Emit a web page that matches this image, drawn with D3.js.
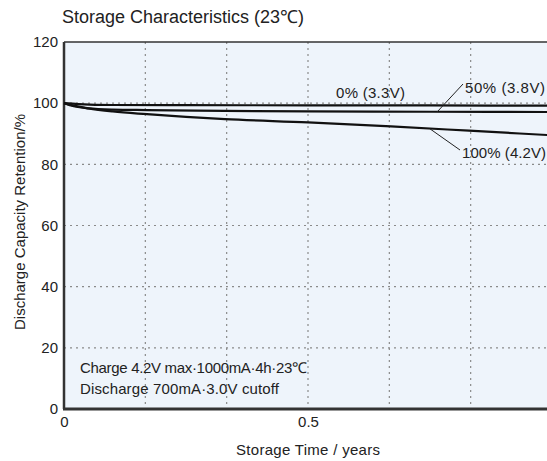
<!DOCTYPE html>
<html><head><meta charset="utf-8">
<script src="https://cdn.jsdelivr.net/npm/d3@7"></script>
<style>
html,body{margin:0;padding:0;background:#fff;}
svg{display:block;font-family:"Liberation Sans",Arial,sans-serif;}
</style></head>
<body>
<svg id="chart" width="547" height="461"></svg>
<script>
// ---- data ----
const title = "Storage Characteristics (23\u2103)";
const xLabel = "Storage Time / years";
const yLabel = "Discharge Capacity Retention/%";
const xTicks = [0, 0.5];
const xTickLabels = ["0", "0.5"];
const yTicks = [0, 20, 40, 60, 80, 100, 120];
const xGrid = [1/6, 2/6, 3/6, 4/6, 5/6, 1];
const yGrid = [20, 40, 60, 80, 100];
const seriesNames = ["0% (3.3V)", "50% (3.8V)", "100% (4.2V)"];
const time0   = [0, 0.03, 0.1, 0.25, 0.5, 0.75, 1.0];
const soc0    = [100, 99.7, 99.4, 99.35, 99.3, 99.25, 99.2];
const time50  = [0, 0.02, 0.05, 0.1, 0.17, 0.33, 0.5, 0.75, 1.0];
const soc50   = [100, 99.0, 98.3, 97.9, 97.75, 97.5, 97.3, 97.2, 97.1];
const time100 = [0, 0.02, 0.05, 0.1, 0.17, 0.25, 0.33, 0.5, 0.67, 0.83, 1.0];
const soc100  = [100, 99.2, 98.3, 97.3, 96.4, 95.5, 94.8, 93.7, 92.4, 91.0, 89.5];
const notes = ["Charge 4.2V max\u00b71000mA\u00b74h\u00b723\u2103", "Discharge 700mA\u00b73.0V cutoff"];

// ---- layout ----
const svg = d3.select("#chart");
const x = d3.scaleLinear().domain([0, 1]).range([64, 552]);
const y = d3.scaleLinear().domain([0, 120]).range([409, 42]);

// background
svg.append("rect").attr("x", x(0)).attr("y", y(120))
  .attr("width", x(1) - x(0)).attr("height", y(0) - y(120))
  .attr("fill", "#eef4fb");

// grid
svg.append("g").selectAll("line").data(xGrid).join("line")
  .attr("x1", d => x(d)).attr("x2", d => x(d))
  .attr("y1", y(120)).attr("y2", y(0))
  .attr("stroke", "#8a8a8a").attr("stroke-width", 1.2).attr("stroke-dasharray", "2,4");
svg.append("g").selectAll("line").data(yGrid).join("line")
  .attr("x1", x(0)).attr("x2", x(1))
  .attr("y1", d => y(d)).attr("y2", d => y(d))
  .attr("stroke", "#8a8a8a").attr("stroke-width", 1.2).attr("stroke-dasharray", "2,4");

// frame
svg.append("line").attr("x1", x(0)).attr("x2", x(1)).attr("y1", y(120)).attr("y2", y(120))
  .attr("stroke", "#333").attr("stroke-width", 1.5);
svg.append("line").attr("x1", x(0)).attr("x2", x(0)).attr("y1", y(120)).attr("y2", y(0))
  .attr("stroke", "#333").attr("stroke-width", 2.5);
svg.append("line").attr("x1", x(0) - 1).attr("x2", x(1)).attr("y1", y(0)).attr("y2", y(0))
  .attr("stroke", "#333").attr("stroke-width", 3);

// axes via d3
const yAxis = d3.axisLeft(y).tickValues(yTicks).tickSize(0).tickPadding(6);
const gy = svg.append("g").attr("transform", `translate(${x(0)},0)`).call(yAxis);
gy.select(".domain").remove();
gy.selectAll("text").attr("font-size", 15).attr("fill", "#222")
  .attr("font-family", "Liberation Sans, Arial, sans-serif");

const xAxis = d3.axisBottom(x).tickValues(xTicks).tickFormat((d, i) => xTickLabels[i]).tickSize(0).tickPadding(7);
const gx = svg.append("g").attr("transform", `translate(0,${y(0)})`).call(xAxis);
gx.select(".domain").remove();
gx.selectAll("text").attr("font-size", 15).attr("fill", "#222")
  .attr("font-family", "Liberation Sans, Arial, sans-serif");

// curves
const line = d3.line().x(d => x(d[0])).y(d => y(d[1])).curve(d3.curveMonotoneX);
const series = [
  d3.zip(time0, soc0),
  d3.zip(time50, soc50),
  d3.zip(time100, soc100)
];
svg.append("g").selectAll("path").data(series).join("path")
  .attr("d", line).attr("fill", "none").attr("stroke", "#111").attr("stroke-width", 2.2);

// series labels & leaders
svg.append("text").attr("x", 336).attr("y", 98).text(seriesNames[0])
  .attr("font-size", 15).attr("fill", "#222").attr("textLength", 69);
svg.append("text").attr("x", 465).attr("y", 93).text(seriesNames[1])
  .attr("font-size", 15).attr("fill", "#222").attr("textLength", 80);
svg.append("text").attr("x", 462).attr("y", 158).text(seriesNames[2])
  .attr("font-size", 15).attr("fill", "#222").attr("textLength", 84);
svg.append("line").attr("x1", x(0.765)).attr("y1", y(97.2)).attr("x2", 463).attr("y2", 84)
  .attr("stroke", "#222").attr("stroke-width", 1);
svg.append("line").attr("x1", x(0.75)).attr("y1", y(91.6)).attr("x2", 460).attr("y2", 150)
  .attr("stroke", "#222").attr("stroke-width", 1);

// notes
svg.append("g").selectAll("text").data(notes).join("text")
  .attr("x", 80).attr("y", (d, i) => 373 + i * 21).text(d => d)
  .attr("font-size", 15).attr("fill", "#222")
  .attr("textLength", (d, i) => [227, 199][i]);

// title and axis labels
svg.append("text").attr("x", 62).attr("y", 23).text(title)
  .attr("font-size", 18).attr("fill", "#222").attr("textLength", 242);
svg.append("text").attr("x", 308).attr("y", 455).attr("text-anchor", "middle")
  .text(xLabel).attr("font-size", 15).attr("fill", "#222").attr("textLength", 144);
svg.append("text").attr("transform", "translate(25,222) rotate(-90)")
  .attr("text-anchor", "middle").text(yLabel).attr("font-size", 15).attr("fill", "#222")
  .attr("textLength", 216);
</script>
</body></html>
